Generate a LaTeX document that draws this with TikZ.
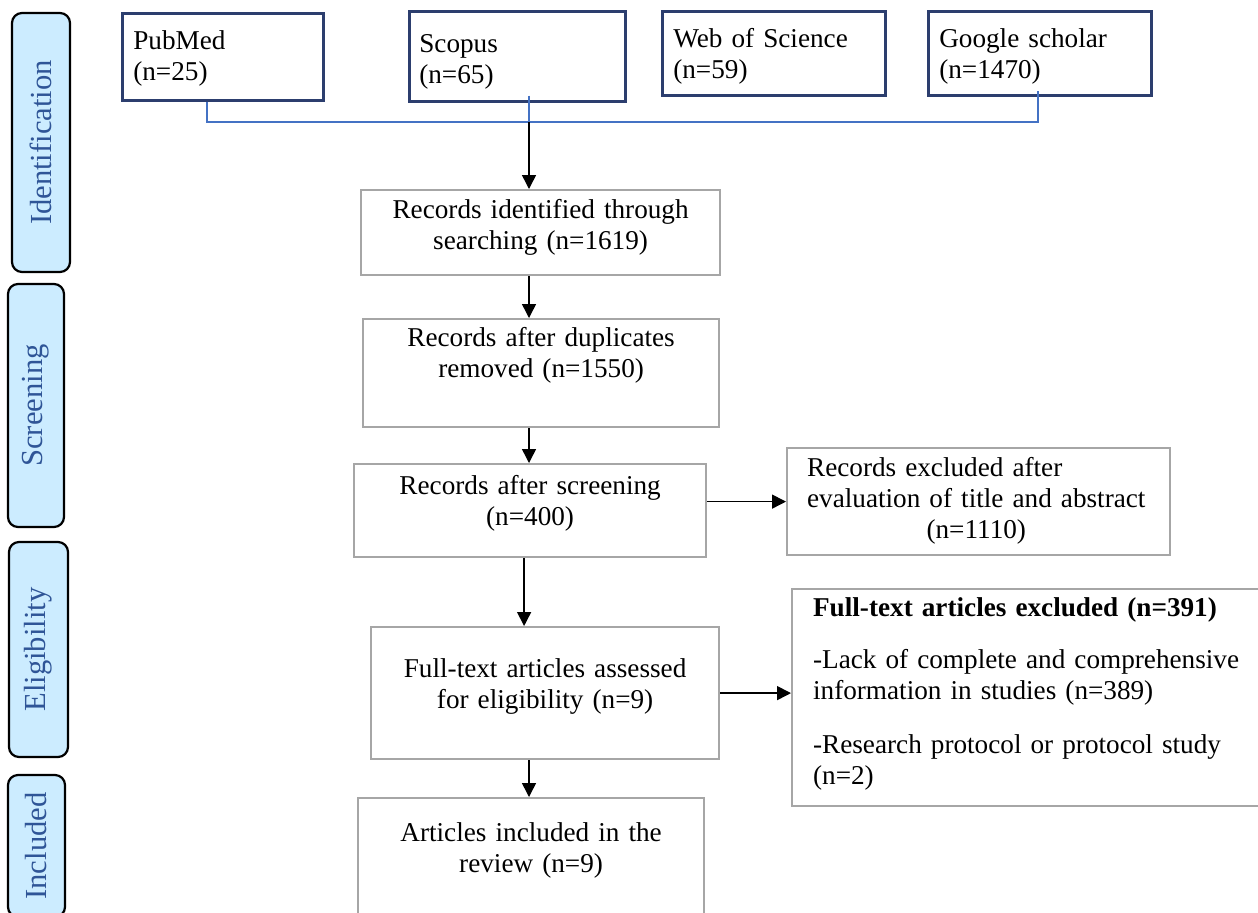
\documentclass[tikz,border=0pt]{standalone}
\usepackage{fontspec}
\setmainfont{Liberation Serif}
\usetikzlibrary{arrows.meta, calc}
\definecolor{stagefill}{RGB}{204,236,255}
\definecolor{stagetext}{RGB}{47,85,151}
\definecolor{dbnavy}{RGB}{44,62,110}
\definecolor{boxgray}{RGB}{166,166,166}
\definecolor{linkblue}{RGB}{68,114,196}

\begin{document}
\begin{tikzpicture}[x=0.5pt, y=-0.5pt,
  stage/.style={draw=black, line width=1.1pt, fill=stagefill, rounded corners=5pt, rotate=90,
    text=stagetext, font=\fontsize{15.3}{18}\selectfont, inner sep=0pt},
  dbbox/.style={draw=dbnavy, line width=1.3pt, anchor=north west, align=left,
    inner xsep=5.5pt, inner ysep=0pt, font=\fontsize{13.6}{15.5}\selectfont},
  flowbox/.style={draw=boxgray, line width=1.1pt, anchor=north west, align=center,
    inner xsep=4pt, inner ysep=0pt, font=\fontsize{13.6}{15.5}\selectfont},
  bracket/.style={draw=linkblue, line width=0.6pt},
  flow/.style={-{Triangle[width=7pt,length=7pt]}, line width=0.75pt}]
\path[use as bounding box, clip] (0,0) rectangle (1258,912);

% Stages
\node[stage, minimum width=129.5pt, minimum height=29pt] (ident) at (41,142.5) {Identification};
\node[stage, minimum width=121.5pt, minimum height=28pt] (screen) at (36,405.5) {Screening};
\node[stage, minimum width=107.5pt, minimum height=29.5pt] (elig) at (38.5,649.5) {Eligibility};
\node[stage, minimum width=71pt, minimum height=28.5pt] (incl) at (36.5,846) {Included};

% Databases
\node[dbbox, text width=89.5pt, text height=18pt, text depth=25.5pt] (pubmed) at (121,12) {PubMed\\(n=25)};
\node[dbbox, inner xsep=5pt, text width=98pt, text height=20.5pt, text depth=24.5pt] (scopus) at (408,10) {Scopus\\(n=65)};
\node[dbbox, text width=100.5pt, text height=18pt, text depth=24pt] (wos) at (661,10) {Web of Science\\(n=59)};
\node[dbbox, text width=100.5pt, text height=18pt, text depth=24pt] (gscholar) at (927,10) {Google scholar\\(n=1470)};

% Merging the searches
\coordinate (pubdrop) at (207,122);
\coordinate (merge) at (529,122);
\coordinate (gsdrop) at (1038,122);
\draw[bracket] (pubmed.south -| pubdrop) -- (pubdrop) -- (gsdrop) -- ([yshift=3pt]gscholar.south -| gsdrop);
\draw[bracket] ([yshift=3.5pt]scopus.south -| merge) -- (merge);

% Main flow
\node[flowbox, text width=171.5pt, text height=14pt, text depth=28.5pt] (found) at (360,189) {Records identified through\\searching (n=1619)};
\node[flowbox, text width=170pt, text height=13.5pt, text depth=40.5pt] (dedup) at (362,318) {Records after duplicates\\removed (n=1550)};
\node[flowbox, text width=168pt, text height=15pt, text depth=31.5pt] (screened) at (353,463) {Records after screening\\(n=400)};
\node[flowbox, text width=166pt, text height=25pt, text depth=41pt] (fulltext) at (370,626) {Full-text articles assessed\\for eligibility (n=9)};
\node[flowbox, text width=165pt, text height=21.5pt, text depth=42pt] (included) at (357,797) {Articles included in the\\review (n=9)};

% Exclusions
\node[flowbox, align=left, inner xsep=10pt, text width=171.5pt, text height=14pt, text depth=39.5pt] (titleout) at (786,447)
  {\begin{tabular}[t]{@{}l@{}}Records excluded after\\evaluation of title and abstract\\\multicolumn{1}{@{}c@{}}{(n=1110)}\end{tabular}};
\node[flowbox, align=left, inner xsep=10.5pt, text width=230pt, text height=13.5pt, text depth=95pt] (fullout) at (791,588)
  {\textbf{Full-text articles excluded (n=391)}\\[10.5pt]-Lack of complete and comprehensive\\information in studies (n=389)\\[11.5pt]-Research protocol or protocol study\\(n=2)};

% Arrows
\draw[flow] (merge) -- (merge |- found.north);
\draw[flow] (found.south -| merge) -- (dedup.north -| merge);
\draw[flow] (dedup.south -| merge) -- (screened.north -| merge);
\draw[flow] ([xshift=-3pt]screened.south) -- ([xshift=-3pt]screened.south |- fulltext.north);
\draw[flow] (fulltext.south -| merge) -- (included.north -| merge);
\draw[flow] (screened.east |- titleout.west) -- (titleout.west);
\draw[flow] (fulltext.east) -- (fulltext.east -| fullout.west);
\end{tikzpicture}
\end{document}
